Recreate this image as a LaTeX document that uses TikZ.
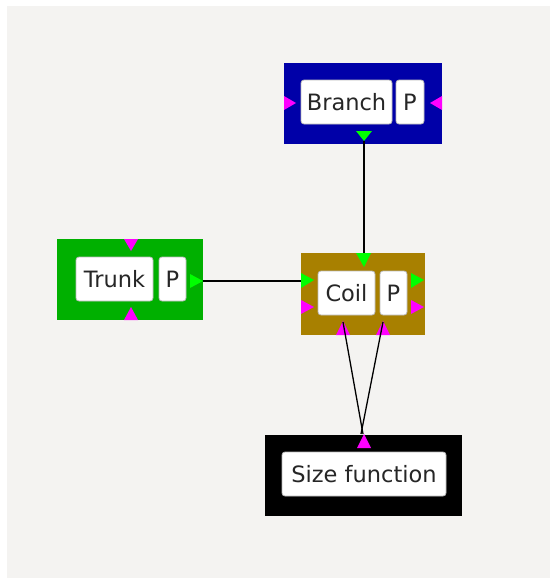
\documentclass[tikz,border=0pt]{standalone}
\usepackage{fontspec}
\setmainfont{DejaVu Sans}
\definecolor{bgc}{HTML}{F4F3F1}
\definecolor{bblue}{HTML}{0000A8}
\definecolor{bgreen}{HTML}{00B000}
\definecolor{bolive}{HTML}{A88000}
\definecolor{pmag}{HTML}{FF00FF}
\definecolor{pgreen}{HTML}{00FF00}
\begin{document}
\begin{tikzpicture}[x=1pt,y=-1pt,
  outerbox/.style={rectangle, draw=none, inner sep=0pt, minimum height=81pt},
  lbl/.style={rectangle, rounded corners=3pt, draw=gray!55, line width=0.8pt, fill=white, inner sep=0pt, minimum height=44pt,
    font=\fontsize{22.5}{24}\selectfont, text=black!85},
  magtri/.style={fill=pmag},
  grntri/.style={fill=pgreen},
  wire/.style={draw=black, line width=1.3pt}]
\useasboundingbox (0,0) rectangle (550,578);
\fill[bgc] (7,6) rectangle (550,578);

% Branch
\node[outerbox, fill=bblue, minimum width=158pt] (branch) at (363,103.5) {};
\node[lbl, minimum width=91pt] (branchl) at (346.5,102) {Branch};
\node[lbl, minimum width=28pt] (branchp) at (410,102) {P};
\fill[magtri] (284,96) -- (296,103) -- (284,110) -- cycle;
\fill[magtri] (442,96) -- (430,103) -- (442,110) -- cycle;
\fill[grntri] (356,131) -- (372,131) -- (364,141) -- cycle;
\coordinate (branchout) at (364,141);

% Trunk
\node[outerbox, fill=bgreen, minimum width=146pt] (trunk) at (130,279.5) {};
\node[lbl, minimum width=77pt] (trunkl) at (114.5,279) {Trunk};
\node[lbl, minimum width=27pt] (trunkp) at (172.5,279) {P};
\fill[magtri] (124,239) -- (138,239) -- (131,251) -- cycle;
\fill[magtri] (124,320) -- (138,320) -- (131,307) -- cycle;
\fill[grntri] (190,274) -- (203,281) -- (190,288) -- cycle;
\coordinate (trunkout) at (203,281);

% Coil
\node[outerbox, fill=bolive, minimum width=124pt, minimum height=82pt] (coil) at (363,294) {};
\node[lbl, minimum width=57pt] (coill) at (346.5,293) {Coil};
\node[lbl, minimum width=27pt] (coilp) at (393.5,293) {P};
\fill[grntri] (356,253) -- (371,253) -- (364,267) -- cycle;
\fill[grntri] (301,273) -- (314,280) -- (301,288) -- cycle;
\fill[magtri] (301,300) -- (314,307) -- (301,314) -- cycle;
\fill[grntri] (411,273) -- (424,280) -- (411,288) -- cycle;
\fill[magtri] (411,300) -- (424,307) -- (411,314) -- cycle;
\fill[magtri] (336,335) -- (350,335) -- (343,321) -- cycle;
\fill[magtri] (376,335) -- (390,335) -- (383,321) -- cycle;
\coordinate (coilin) at (364,253);
\coordinate (coilleft) at (301,281);
\coordinate (coilb1) at (343,322);
\coordinate (coilb2) at (383,322);

% Size function
\node[outerbox, fill=black, minimum width=197pt] (size) at (363.5,475.5) {};
\node[lbl, minimum width=164pt] (sizel) at (364,474) {Size function};
\fill[magtri] (357,448) -- (371,448) -- (364,434) -- cycle;
\coordinate (sizein1) at (363,434);
\coordinate (sizein2) at (361,434);

% connectors
\draw[wire] (branchout) -- (coilin);
\draw[wire] (trunkout) -- (coilleft);
\draw[wire] (coilb1) -- (sizein1);
\draw[wire] (coilb2) -- (sizein2);
\end{tikzpicture}
\end{document}
